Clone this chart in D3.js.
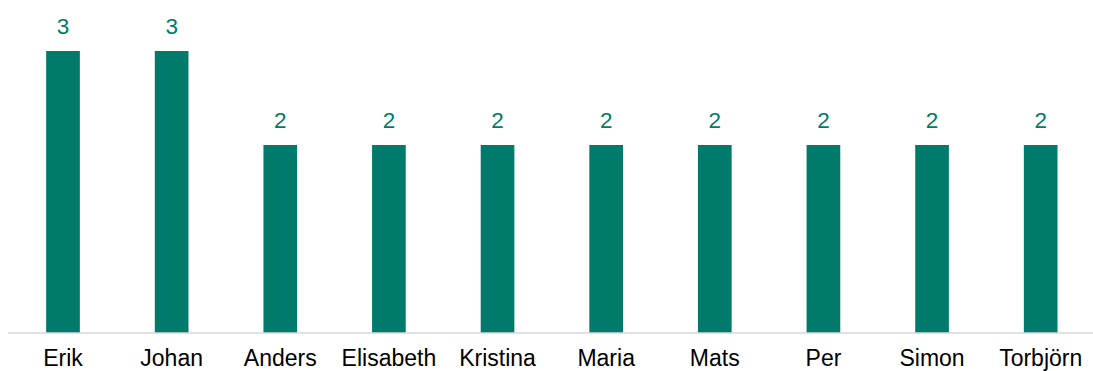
<!DOCTYPE html>
<html lang="en">
<head>
    <meta charset="UTF-8">
    <script src="https://d3js.org/d3.v7.min.js"></script>
    <title>Names</title>
    <style>
        body { margin: 0; background: #fff; }
        text { font-family: "Liberation Sans", Arial, sans-serif; }
    </style>
</head>
<body>
    <div id="chart"></div>
    <script>
        // data
        const names = ["Erik", "Johan", "Anders", "Elisabeth", "Kristina", "Maria", "Mats", "Per", "Simon", "Torbjörn"];
        const counts = [3, 3, 2, 2, 2, 2, 2, 2, 2, 2];

        const width = 1093, height = 371;
        const barColor = "#007b6b";

        const svg = d3.select("#chart").append("svg")
            .attr("width", width)
            .attr("height", height);

        const x = d3.scaleBand()
            .domain(names)
            .range([8.7, 1095])
            .paddingInner(0.69)
            .paddingOuter(0.345);

        const y = d3.scaleLinear()
            .domain([0, 3])
            .range([333, 51]);

        const rows = names.map((n, i) => ({ name: n, value: counts[i] }));

        svg.selectAll("rect.bar")
            .data(rows)
            .enter()
            .append("rect")
            .attr("class", "bar")
            .attr("x", d => x(d.name))
            .attr("y", d => y(d.value))
            .attr("width", x.bandwidth())
            .attr("height", d => y(0) - y(d.value))
            .attr("fill", barColor);

        // value labels
        svg.selectAll("text.val")
            .data(rows)
            .enter()
            .append("text")
            .attr("class", "val")
            .attr("x", d => x(d.name) + x.bandwidth() / 2)
            .attr("y", d => y(d.value) - 17)
            .attr("text-anchor", "middle")
            .attr("font-size", 22.5)
            .attr("fill", barColor)
            .text(d => d.value);

        // x axis (labels nudged up a little so descenders stay inside the frame)
        const xAxis = d3.axisBottom(x).tickSize(0).tickPadding(16.5);
        const g = svg.append("g")
            .attr("transform", `translate(0,${y(0)})`)
            .call(xAxis);
        g.select(".domain").attr("stroke", "#d9d9d9").attr("stroke-width", 1.5)
            .attr("d", `M8,0H1093`);
        g.selectAll("text")
            .attr("font-size", 23)
            .attr("font-family", "'Liberation Sans', Arial, sans-serif")
            .attr("fill", "#000");
    </script>
</body>
</html>
